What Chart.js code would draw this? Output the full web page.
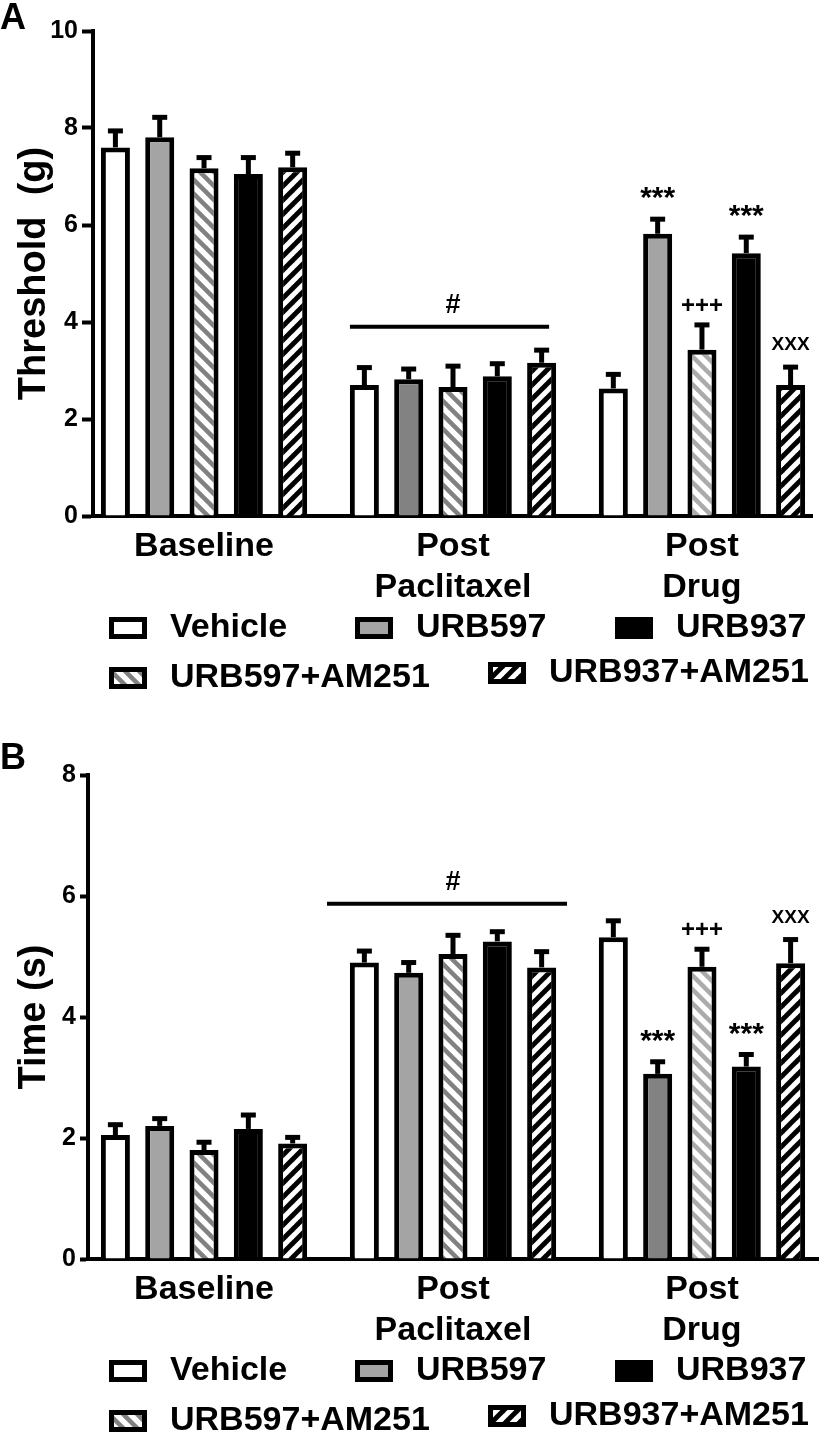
<!DOCTYPE html>
<html>
<head>
<meta charset="utf-8">
<script src="https://cdn.jsdelivr.net/npm/chart.js@4"></script>
<style>
  body { margin: 0; background: #fff; }
  canvas { display: block; }
</style>
</head>
<body>
<canvas id="chartA" width="826" height="717"></canvas>
<canvas id="chartB" width="826" height="718"></canvas>
<script>
const groups = [['Baseline'], ['Post', 'Paclitaxel'], ['Post', 'Drug']]
const seriesNames = ['Vehicle', 'URB597', 'URB597+AM251', 'URB937', 'URB937+AM251']

// rows = series, columns = groups
const thresholdMeans = [
	[7.60, 2.70, 2.63],
	[7.81, 2.82, 5.82],
	[7.17, 2.66, 3.43],
	[7.05, 2.88, 5.42],
	[7.19, 3.16, 2.70],
]
const thresholdSem = [
	[0.34, 0.36, 0.29],
	[0.41, 0.21, 0.30],
	[0.22, 0.43, 0.51],
	[0.34, 0.26, 0.33],
	[0.29, 0.26, 0.37],
]
const timeMeans = [
	[2.05, 4.90, 5.32],
	[2.20, 4.73, 3.06],
	[1.80, 5.04, 4.83],
	[2.15, 5.25, 3.18],
	[1.91, 4.82, 4.89],
]
const timeSem = [
	[0.17, 0.19, 0.27],
	[0.12, 0.17, 0.20],
	[0.13, 0.31, 0.29],
	[0.23, 0.16, 0.20],
	[0.10, 0.26, 0.39],
]
// significance marks, only on the Post Drug group
const marks = ['', '***', '+++', '***', 'XXX']
const thresholdTicks = [0, 2, 4, 6, 8, 10]
const timeTicks = [0, 2, 4, 6, 8]
// "#" bracket over Post Paclitaxel: [x from, x to, y] in axis units
const thresholdBracket = [0.586, 1.386, 3.90]
const timeBracket = [0.494, 1.458, 5.87]

const FONT = "'Liberation Sans', Arial, Helvetica, sans-serif"
Chart.defaults.font.family = FONT
Chart.defaults.color = '#000'

function hatch(bg, fg, w, dir) {
	const t = 14
	const c = document.createElement('canvas')
	c.width = c.height = t
	const g = c.getContext('2d')
	g.fillStyle = bg
	g.fillRect(0, 0, t, t)
	g.strokeStyle = fg
	g.lineWidth = w
	for (let k = -t; k <= t; k += t) {
		g.beginPath()
		if (dir > 0) {
			g.moveTo(k - 2, t + 2)
			g.lineTo(k + t + 2, -2)
		} else {
			g.moveTo(k - 2, -2)
			g.lineTo(k + t + 2, t + 2)
		}
		g.stroke()
	}
	return g.createPattern(c, 'repeat')
}

const grayLight = '#a4a4a4'
const grayDark = '#828282'
const hatchDark = hatch('#fff', '#818181', 4.5, -1)
const hatchLight = hatch('#fff', '#ababab', 4.5, -1)
const blackHatch = hatch('#000', '#fff', 5, 1)

function fills(urb597) {
	return ['#fff', urb597, [hatchDark, hatchDark, hatchLight], '#000', blackHatch]
}

const legendSlots = [
	{ s: 0, x: 109, dy: 112 },
	{ s: 1, x: 355, dy: 112 },
	{ s: 3, x: 615, dy: 112 },
	{ s: 2, x: 109, dy: 162 },
	{ s: 4, x: 488, dy: 157 },
]
const legendFills = ['#fff', grayLight, hatchDark, '#000', blackHatch]

const extras = {
	id: 'extras',
	afterDatasetsDraw(chart) {
		const { ctx, scales: { x, y } } = chart
		const o = chart.options.plugins.extras
		ctx.save()
		ctx.strokeStyle = '#000'
		ctx.fillStyle = '#000'
		chart.data.datasets.forEach((ds, i) => {
			const meta = chart.getDatasetMeta(i)
			meta.data.forEach((bar, j) => {
				const top = y.getPixelForValue(ds.data[j].y + ds.sem[j])
				ctx.lineWidth = 5
				ctx.beginPath()
				ctx.moveTo(bar.x, bar.y)
				ctx.lineTo(bar.x, top)
				ctx.stroke()
				ctx.beginPath()
				ctx.moveTo(bar.x - 7.5, top)
				ctx.lineTo(bar.x + 7.5, top)
				ctx.stroke()
				if (j === 2 && marks[i]) {
					const m = marks[i]
					ctx.textAlign = 'center'
					ctx.textBaseline = 'middle'
					if (m === '***') {
						ctx.font = 'bold 30px ' + FONT
						ctx.fillText(m, bar.x, top - 20)
					} else if (m === '+++') {
						ctx.font = 'bold 24px ' + FONT
						ctx.fillText(m, bar.x, top - 19)
					} else {
						ctx.font = 'bold 19px ' + FONT
						ctx.fillText(m, bar.x, top - 22)
					}
				}
			})
		})
		// bracket with #
		const br = o.bracket
		const by = y.getPixelForValue(br[2])
		const bx0 = x.getPixelForValue(br[0])
		const bx1 = x.getPixelForValue(br[1])
		ctx.lineWidth = 4
		ctx.beginPath()
		ctx.moveTo(bx0, by)
		ctx.lineTo(bx1, by)
		ctx.stroke()
		ctx.font = 'bold 27px ' + FONT
		ctx.textAlign = 'center'
		ctx.textBaseline = 'alphabetic'
		ctx.fillText('#', x.getPixelForValue(1), by - 14)

		// panel letter
		ctx.font = 'bold 36px ' + FONT
		ctx.textAlign = 'left'
		ctx.fillText(o.letter, 0, o.letterY)

		// legend
		const base = chart.chartArea.bottom
		ctx.font = 'bold 34px ' + FONT
		ctx.textBaseline = 'middle'
		legendSlots.forEach(it => {
			const cy = base + it.dy
			ctx.fillStyle = '#000'
			ctx.fillRect(it.x, cy - 11, 38, 22)
			ctx.fillStyle = legendFills[it.s]
			ctx.fillRect(it.x + 5, cy - 6, 28, 12)
			ctx.fillStyle = '#000'
			ctx.fillText(seriesNames[it.s], it.x + 61, cy)
		})
		ctx.restore()
	},
}

function makeChart(el, cfg) {
	const datasets = seriesNames.map((name, i) => ({
		label: name,
		data: cfg.means[i].map((v, j) => ({ x: j, y: v })),
		sem: cfg.sem[i],
		backgroundColor: cfg.fills[i],
		borderColor: '#000',
		borderWidth: 5,
		borderSkipped: 'start',
		categoryPercentage: 0.89,
		barPercentage: 0.655,
	}))
	return new Chart(el, {
		type: 'bar',
		data: { datasets: datasets },
		options: {
			responsive: false,
			animation: false,
			layout: { padding: { top: cfg.top, right: cfg.right, left: 0, bottom: 0 } },
			plugins: {
				legend: { display: false },
				tooltip: { enabled: false },
				extras: { bracket: cfg.bracket, letter: cfg.letter, letterY: cfg.letterY },
			},
			scales: {
				x: {
					type: 'linear',
					min: cfg.xMin,
					max: cfg.xMax,
					offset: false,
					afterBuildTicks: axis => {
						axis.ticks = groups.map((g, i) => ({ value: i }))
					},
					afterFit: scale => {
						scale.height = cfg.xHeight
					},
					grid: { display: false, drawTicks: false, offset: false },
					border: { display: true, color: '#000', width: 4 },
					ticks: {
						autoSkip: false,
						maxRotation: 0,
						padding: 10,
						font: { size: 34, weight: 'bold' },
						callback: v => groups[v],
					},
				},
				y: {
					min: 0,
					max: cfg.yTicks[cfg.yTicks.length - 1],
					afterBuildTicks: axis => {
						axis.ticks = cfg.yTicks.map(v => ({ value: v }))
					},
					afterFit: scale => {
						scale.width = cfg.yWidth
					},
					grid: {
						drawOnChartArea: false,
						drawTicks: true,
						tickLength: cfg.tickLen,
						tickWidth: 4,
						tickColor: '#000',
					},
					border: { display: true, color: '#000', width: 4 },
					ticks: {
						padding: 4,
						font: { size: 25, weight: 'bold' },
					},
					title: {
						display: true,
						text: cfg.title,
						font: { size: 38, weight: 'bold' },
						padding: { top: 12, bottom: 0 },
					},
				},
			},
		},
		plugins: [extras],
	})
}

makeChart(document.getElementById('chartA'), {
	means: thresholdMeans,
	sem: thresholdSem,
	fills: fills([grayLight, grayDark, grayLight]),
	yTicks: thresholdTicks,
	title: 'Threshold  (g)',
	bracket: thresholdBracket,
	letter: 'A',
	letterY: 29,
	top: 31,
	right: 14,
	xMin: -0.446,
	xMax: 2.442,
	xHeight: 201,
	yWidth: 93,
	tickLen: 11,
})

makeChart(document.getElementById('chartB'), {
	means: timeMeans,
	sem: timeSem,
	fills: fills([grayLight, grayLight, grayDark]),
	yTicks: timeTicks,
	title: 'Time (s)',
	bracket: timeBracket,
	letter: 'B',
	letterY: 52,
	top: 58,
	right: 8,
	xMin: -0.466,
	xMax: 2.466,
	xHeight: 176,
	yWidth: 88,
	tickLen: 8,
})
</script>
</body>
</html>
